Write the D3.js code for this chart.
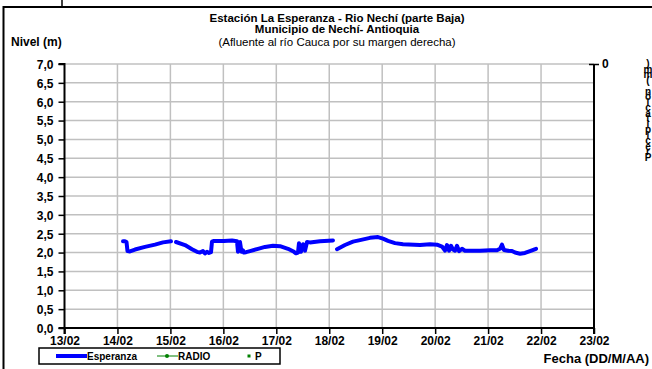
<!DOCTYPE html>
<html>
<head>
<meta charset="utf-8">
<script src="https://cdn.jsdelivr.net/npm/d3@7"></script>
<style>
  html, body { margin: 0; padding: 0; background: #fff; }
  svg { display: block; font-family: "Liberation Sans", Arial, sans-serif; }
  .vertical { writing-mode: vertical-rl; text-orientation: upright; }
</style>
</head>
<body>
<svg id="chart" width="652" height="369"></svg>
<script>
// Nivel del río en la estación La Esperanza (m); null marca huecos en el registro
const fechaHora = [
  "14/02 02:31", "14/02 03:25", "14/02 04:06", "14/02 04:33", "14/02 05:41", "14/02 07:57",
  "14/02 12:29", "14/02 17:01", "14/02 20:39", "15/02 00:16", "15/02 01:30",
  "15/02 02:32", "15/02 06:37", "15/02 09:47", "15/02 12:02", "15/02 13:25", "15/02 14:46",
  "15/02 15:41", "15/02 16:35", "15/02 17:30", "15/02 18:24", "15/02 18:51", "15/02 19:46",
  "16/02 00:18", "16/02 03:55", "16/02 06:11", "16/02 06:38", "16/02 07:06", "16/02 07:32",
  "16/02 08:13", "16/02 08:54", "16/02 09:22", "16/02 10:16", "16/02 12:05", "16/02 15:42",
  "16/02 18:53", "16/02 22:30", "17/02 01:41", "17/02 05:18", "17/02 08:01", "17/02 08:55",
  "17/02 09:50", "17/02 10:17", "17/02 11:12", "17/02 12:06", "17/02 13:00", "17/02 13:55",
  "17/02 15:16", "17/02 19:48", "18/02 01:42", "18/02 02:30",
  "18/02 03:31", "18/02 07:08", "18/02 10:46", "18/02 13:56", "18/02 18:28", "18/02 22:06",
  "19/02 00:22", "19/02 02:38", "19/02 05:48", "19/02 09:26", "19/02 17:08", "19/02 21:40",
  "20/02 00:50", "20/02 03:06", "20/02 04:28", "20/02 05:22", "20/02 06:17", "20/02 07:11",
  "20/02 08:05", "20/02 09:00", "20/02 09:54", "20/02 10:49", "20/02 12:10", "20/02 13:32",
  "20/02 15:48", "20/02 20:20", "21/02 00:52", "21/02 04:02", "21/02 05:24", "21/02 06:18",
  "21/02 07:12", "21/02 09:01", "21/02 10:50", "21/02 12:12", "21/02 14:28", "21/02 16:43",
  "21/02 18:59", "21/02 21:43"
];
const nivelEsperanza = [
  2.30, 2.30, 2.28, 2.04, 2.03, 2.08,
  2.15, 2.21, 2.27, 2.30, null,
  2.28, 2.20, 2.09, 2.02, 2.00, 2.04,
  1.98, 2.02, 1.99, 2.01, 2.29, 2.31,
  2.31, 2.32, 2.30, 2.02, 2.27, 2.28,
  2.02, 2.06, 2.00, 2.01, 2.04, 2.10,
  2.15, 2.18, 2.17, 2.10, 2.02, 1.98,
  2.00, 2.25, 2.02, 2.22, 2.05, 2.28,
  2.27, 2.30, 2.32, null,
  2.09, 2.20, 2.29, 2.33, 2.39, 2.41,
  2.37, 2.31, 2.25, 2.22, 2.20, 2.22,
  2.21, 2.16, 2.05, 2.20, 2.05, 2.18,
  2.08, 2.05, 2.18, 2.04, 2.10, 2.05,
  2.05, 2.05, 2.06, 2.06, 2.10, 2.21,
  2.07, 2.05, 2.04, 2.00, 1.97, 1.99,
  2.04, 2.10
];
const ticksNivel = [0, 0.5, 1, 1.5, 2, 2.5, 3, 3.5, 4, 4.5, 5, 5.5, 6, 6.5, 7];
const ticksFecha = ["13/02", "14/02", "15/02", "16/02", "17/02", "18/02", "19/02", "20/02", "21/02", "22/02", "23/02"];
const ticksPrecip = [0];

const titulo = [
  "Estación La Esperanza - Rio Nechí  (parte Baja)",
  "Municipio de Nechí- Antioquia",
  "(Afluente al río Cauca por su margen derecha)"
];
const tituloPrecip = "Precipitación (mm)";
const leyenda = ["Esperanza", "RADIO", "P"];

const parseHora = d3.timeParse("%d/%m %H:%M");
const parseDia = d3.timeParse("%d/%m");
const serie = fechaHora.map((f, i) => ({ t: parseHora(f), v: nivelEsperanza[i] }));
const dias = ticksFecha.map(parseDia);

const svg = d3.select("#chart");
const area = { left: 64.5, right: 594, top: 64, bottom: 328 };
const FUENTE = "Liberation Sans, Arial, sans-serif";

const x = d3.scaleTime().domain([dias[0], dias[dias.length - 1]]).range([area.left, area.right]);
const y = d3.scaleLinear().domain([0, 7]).range([area.bottom, area.top]);

// marco exterior
svg.append("rect").attr("x", 3.5).attr("y", 7).attr("width", 700).attr("height", 400)
  .attr("fill", "none").attr("stroke", "#000").attr("stroke-width", 2);
svg.append("line").attr("x1", 62).attr("x2", 62).attr("y1", 0).attr("y2", 7)
  .attr("stroke", "#000").attr("stroke-width", 1.5);

// títulos
const tit = svg.append("g").attr("font-size", 11.5).attr("text-anchor", "middle");
tit.append("text").attr("x", 337).attr("y", 21.5).attr("font-weight", "bold").text(titulo[0]);
tit.append("text").attr("x", 337).attr("y", 33).attr("font-weight", "bold").text(titulo[1]);
tit.append("text").attr("x", 337).attr("y", 46).text(titulo[2]);
svg.append("text").attr("x", 11).attr("y", 46).attr("font-size", 12).attr("font-weight", "bold").text("Nivel (m)");

// cuadrícula
const grid = svg.append("g").attr("stroke", "#c0c0c0").attr("stroke-width", 1.5);
ticksNivel.filter(d => d > 0).forEach(d => {
  grid.append("line").attr("x1", area.left).attr("x2", area.right).attr("y1", y(d)).attr("y2", y(d));
});
dias.slice(1, -1).forEach(d => {
  grid.append("line").attr("x1", x(d)).attr("x2", x(d)).attr("y1", area.top).attr("y2", area.bottom);
});

// ejes
const ejeY = d3.axisLeft(y).tickValues(ticksNivel).tickSize(6)
  .tickFormat(d => d3.format(".1f")(d).replace(".", ","));
const gy = svg.append("g").attr("transform", `translate(${area.left},0)`).call(ejeY);
gy.select(".domain").attr("stroke-width", 2).attr("d", `M-6,${area.top}H0V${area.bottom}H-6`);
gy.selectAll(".tick line").attr("stroke-width", 1.5);
gy.selectAll(".tick text").attr("font-size", 12).attr("font-weight", "bold")
  .attr("font-family", FUENTE).attr("x", -11).attr("dy", "0.36em");

const ejeX = d3.axisBottom(x).tickValues(dias).tickSize(6).tickFormat(d3.timeFormat("%d/%m"));
const gx = svg.append("g").attr("transform", `translate(0,${area.bottom})`).call(ejeX);
gx.select(".domain").attr("stroke-width", 2).attr("d", `M${area.left},6V0H${area.right}V6`);
gx.selectAll(".tick line").attr("stroke-width", 1.5);
gx.selectAll(".tick text").attr("font-size", 12).attr("font-weight", "bold")
  .attr("font-family", FUENTE).attr("y", 8);

// eje secundario de precipitación
const y2 = d3.scaleLinear().domain([0, 1]).range([area.top, area.bottom]);
const ejeP = d3.axisRight(y2).tickValues(ticksPrecip).tickSize(5).tickFormat(d3.format("d"));
const gp = svg.append("g").attr("transform", `translate(${area.right},0)`).call(ejeP);
gp.select(".domain").attr("stroke-width", 2).attr("d", `M0,${area.top}V${area.bottom}`);
gp.selectAll(".tick line").attr("stroke-width", 1.5).attr("x1", -5);
gp.selectAll(".tick text").attr("font-size", 12).attr("font-weight", "bold")
  .attr("font-family", FUENTE).attr("x", 8);

// título vertical apilado del eje secundario, letras comprimidas en una columna
const vt = svg.append("text").attr("class", "vertical")
  .attr("x", 648).attr("y", 58)
  .attr("font-size", 10).attr("font-weight", "bold")
  .text(Array.from(tituloPrecip).reverse().join(""));
const largoNatural = vt.node().getComputedTextLength();
const nLetras = tituloPrecip.length;
vt.style("letter-spacing", `${(99 - largoNatural) / nLetras}px`);

// serie de nivel
const linea = d3.line().defined(d => d.v !== null).x(d => x(d.t)).y(d => y(d.v));
svg.append("path").datum(serie).attr("d", linea)
  .attr("fill", "none").attr("stroke", "#0000ff").attr("stroke-width", 4)
  .attr("stroke-linejoin", "round").attr("stroke-linecap", "round");

// leyenda
const ley = svg.append("g").attr("font-size", 10).attr("font-weight", "bold");
ley.append("rect").attr("x", 39).attr("y", 348).attr("width", 241).attr("height", 16)
  .attr("fill", "#fff").attr("stroke", "#000").attr("stroke-width", 1.5);
ley.append("line").attr("x1", 56).attr("x2", 87).attr("y1", 356).attr("y2", 356)
  .attr("stroke", "#0000ff").attr("stroke-width", 4);
ley.append("text").attr("x", 87).attr("y", 360).text(leyenda[0]);
ley.append("line").attr("x1", 157).attr("x2", 178).attr("y1", 356).attr("y2", 356)
  .attr("stroke", "#008000").attr("stroke-width", 1);
ley.append("circle").attr("cx", 167).attr("cy", 356).attr("r", 2).attr("fill", "#008000");
ley.append("text").attr("x", 178).attr("y", 360).text(leyenda[1]);
ley.append("rect").attr("x", 247.5).attr("y", 354.5).attr("width", 3).attr("height", 3).attr("fill", "#008000");
ley.append("text").attr("x", 255).attr("y", 360).text(leyenda[2]);

svg.append("text").attr("x", 649).attr("y", 363).attr("text-anchor", "end")
  .attr("font-size", 13).attr("font-weight", "bold").text("Fecha (DD/M/AA)");
</script>
</body>
</html>
